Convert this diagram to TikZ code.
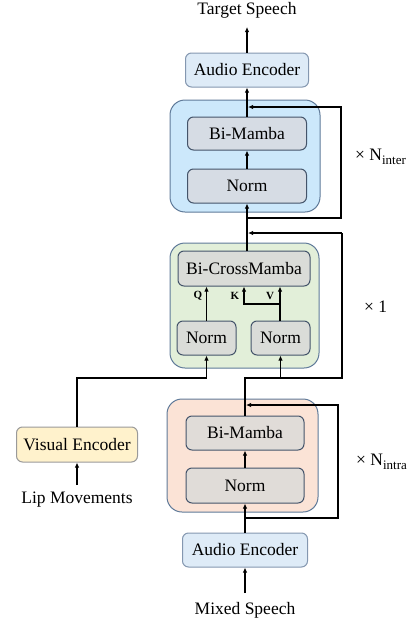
\documentclass[tikz,border=0pt]{standalone}
\usepackage{fontspec}
\setmainfont{Liberation Serif}
\usetikzlibrary{arrows.meta}
\definecolor{interfill}{HTML}{CCE8FB}
\definecolor{crossfill}{HTML}{E2EFD9}
\definecolor{intrafill}{HTML}{FBE3D6}
\definecolor{contborder}{HTML}{5F7A99}
\definecolor{innerborder}{HTML}{44546A}
\definecolor{innerA}{HTML}{D6DCE4}
\definecolor{innerB}{HTML}{DADCD8}
\definecolor{innerC}{HTML}{E0DCD8}
\definecolor{aefill}{HTML}{DEEBF7}
\definecolor{aeborder}{HTML}{8497B0}
\definecolor{vefill}{HTML}{FFF2CC}
\definecolor{veborder}{HTML}{9A9A9A}
\newcommand{\mainfs}{\fontsize{17.5}{20}\selectfont}
\begin{document}
\begin{tikzpicture}[x=1pt,y=-1pt,
  container/.style={draw=contborder,line width=1pt,rounded corners=15pt,inner sep=0pt},
  innerbox/.style={draw=innerborder,line width=1pt,rounded corners=6pt,inner sep=0pt,font=\mainfs},
  encbox/.style={draw=#1,line width=1pt,rounded corners=6pt,inner sep=0pt,font=\mainfs},
  plain/.style={font=\mainfs,inner sep=1pt},
  small/.style={font=\fontsize{11}{11}\selectfont\bfseries,inner sep=0pt},
  arr/.style={-{Latex[length=5pt,width=4.5pt]},line width=1.5pt},
  ln/.style={line width=1.5pt}]
\useasboundingbox (0,0) rectangle (419,627);

% containers
\node[container,fill=interfill,minimum width=150pt,minimum height=112pt] (interC) at (245,156) {};
\node[container,fill=crossfill,minimum width=149pt,minimum height=125pt] (crossC) at (244.5,305.5) {};
\node[container,fill=intrafill,minimum width=151pt,minimum height=113pt] (intraC) at (242.5,455.5) {};

% text nodes
\node[plain] (ts) at (247,10) {Target Speech};
\node[plain] (ms) at (245,610) {Mixed Speech};
\node[plain] (lm) at (77,500) {Lip Movements};

% encoders
\node[encbox=aeborder,fill=aefill,minimum width=123pt,minimum height=34pt] (aeTop) at (247,70) {Audio Encoder};
\node[encbox=aeborder,fill=aefill,minimum width=125pt,minimum height=34pt] (aeBot) at (245,550) {Audio Encoder};
\node[encbox=veborder,fill=vefill,minimum width=121pt,minimum height=35pt] (ve) at (77,444.5) {Visual Encoder};

% inter block
\node[innerbox,fill=innerA,minimum width=119pt,minimum height=33pt] (bmInter) at (247,133.5) {Bi-Mamba};
\node[innerbox,fill=innerA,minimum width=119pt,minimum height=34pt] (normInter) at (247,186) {Norm};

% cross block
\node[innerbox,fill=innerB,minimum width=132pt,minimum height=35pt] (bcm) at (244,268.5) {Bi-CrossMamba};
\node[innerbox,fill=innerB,minimum width=59pt,minimum height=34pt] (normL) at (206.5,338) {Norm};
\node[innerbox,fill=innerB,minimum width=59pt,minimum height=34pt] (normR) at (280.5,338) {Norm};

% intra block
\node[innerbox,fill=innerC,minimum width=118pt,minimum height=34pt] (bmIntra) at (245,433) {Bi-Mamba};
\node[innerbox,fill=innerC,minimum width=118pt,minimum height=35pt] (normIntra) at (245,485.5) {Norm};

% repeat labels
\node[font=\mainfs,anchor=west,inner sep=0pt] (lblInter) at (355,157) {× N\raisebox{-4.5pt}{\fontsize{13}{13}\selectfont inter}};
\node[font=\mainfs,anchor=west,inner sep=0pt] (lblCross) at (364,307) {× 1};
\node[font=\mainfs,anchor=west,inner sep=0pt] (lblIntra) at (356,462) {× N\raisebox{-4.5pt}{\fontsize{13}{13}\selectfont intra}};

% QKV labels
\node[small] (lq) at (198,296) {Q};
\node[small] (lk) at (235,296) {K};
\node[small] (lv) at (270,296) {V};

% junction coordinates
\coordinate (msTop) at (245,593);
\coordinate (lmTop) at (77,485);
\coordinate (tsBot) at (247,27);
\coordinate (jIntraRes) at (245,518);
\coordinate (rIntraBot) at (338,518);
\coordinate (rIntraTop) at (338,405);
\coordinate (aIntra) at (246,405);
\coordinate (jCross) at (245,378);
\coordinate (rCrossBot) at (342,378);
\coordinate (rCrossTop) at (342,233);
\coordinate (aCross) at (248,233);
\coordinate (jInterRes) at (247,218);
\coordinate (rInterBot) at (341,218);
\coordinate (rInterTop) at (341,107);
\coordinate (aInter) at (248,107);
\coordinate (kv) at (280,304);
\coordinate (kTurn) at (244,304);
\coordinate (bcmOut) at (247,251);

% bottom (intra) path
\draw[arr] (msTop) -- (aeBot.south);
\draw[arr] (aeBot.north) -- (normIntra.south);
\draw[arr] (jIntraRes) -- (rIntraBot) -- (rIntraTop) -- (aIntra);
\draw[arr] (normIntra.north) -- (bmIntra.south);
\draw[ln] (bmIntra.north) -- (jCross) -- (rCrossBot) -- (rCrossTop);
\draw[arr] (rCrossTop) -- (aCross);
\draw[arr] (jCross -| normR.south) -- (normR.south);

% visual path
\draw[arr] (lmTop) -- (ve.south);
\draw[arr] (ve.north) |- (jCross -| normL.south) -- (normL.south);

% cross block internals
\draw[arr] (normL.north) -- (normL.north |- bcm.south);
\draw[arr] (normR.north -| kv) -- (kv |- bcm.south);
\draw[arr] (kv) -- (kTurn) -- (kTurn |- bcm.south);

% inter path
\draw[arr] (bcmOut) -- (normInter.south);
\draw[arr] (jInterRes) -- (rInterBot) -- (rInterTop) -- (aInter);
\draw[arr] (normInter.north) -- (bmInter.south);
\draw[arr] (bmInter.north) -- (aeTop.south);
\draw[arr] (aeTop.north) -- (tsBot);
\end{tikzpicture}
\end{document}
